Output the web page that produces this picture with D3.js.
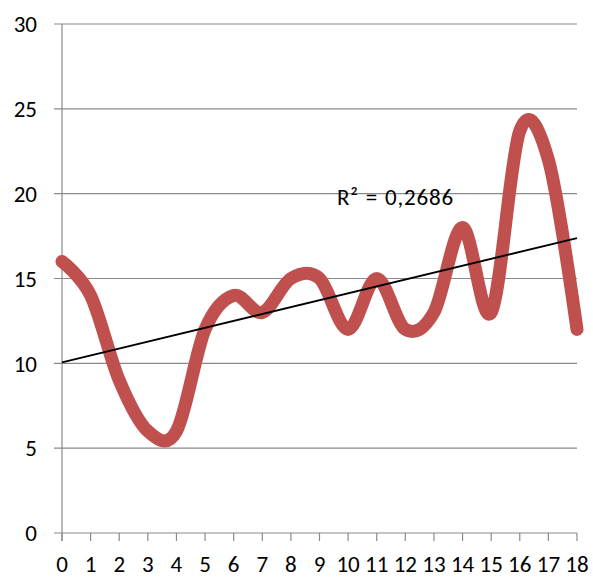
<!DOCTYPE html>
<html>
<head>
<meta charset="utf-8">
<script src="https://cdn.jsdelivr.net/npm/d3@7"></script>
<style>
  html, body { margin: 0; padding: 0; background: #fff; }
  text { font-family: Carlito, Calibri, Lato, sans-serif; fill: #000; }
</style>
</head>
<body>
<div id="chart"></div>
<script>
// values
const xValues = [0, 1, 2, 3, 4, 5, 6, 7, 8, 9, 10, 11, 12, 13, 14, 15, 16, 17, 18]
const yValues = [16, 14, 9, 6, 6, 12, 14, 13, 15, 15, 12, 15, 12, 13, 18, 13, 23.7, 22, 12]
const yTicks = [0, 5, 10, 15, 20, 25, 30]
const r2Label = 'R² = 0,2686'

const width = 593
const height = 578
const margin = { top: 24, right: 16, bottom: 45, left: 62 }

const svg = d3.create('svg')
    .attr('width', width)
    .attr('height', height)
    .attr('viewBox', [0, 0, width, height])

const x = d3.scaleLinear()
    .domain([0, 18])
    .range([margin.left, width - margin.right])

const y = d3.scaleLinear()
    .domain([0, 30])
    .range([height - margin.bottom, margin.top])

/* gridlines */
svg.append('g')
    .selectAll('line')
    .data(yTicks)
    .join('line')
    .attr('x1', margin.left - 8)
    .attr('x2', x(18))
    .attr('y1', d => y(d))
    .attr('y2', d => y(d))
    .attr('stroke', '#8a8a8a')
    .attr('stroke-width', 1.2)

/* y axis */
svg.append('line')
    .attr('x1', x(0)).attr('x2', x(0))
    .attr('y1', y(30)).attr('y2', y(0) + 8)
    .attr('stroke', '#8a8a8a')
    .attr('stroke-width', 1.2)

svg.append('g')
    .selectAll('text')
    .data(yTicks)
    .join('text')
    .attr('x', 37)
    .attr('y', d => y(d))
    .attr('dy', '0.36em')
    .attr('text-anchor', 'end')
    .attr('font-size', 23)
    .text(d => d)

/* x axis ticks + labels */
svg.append('g')
    .selectAll('line')
    .data(xValues)
    .join('line')
    .attr('x1', d => x(d)).attr('x2', d => x(d))
    .attr('y1', y(0)).attr('y2', y(0) + 8)
    .attr('stroke', '#8a8a8a')
    .attr('stroke-width', 1.2)

svg.append('g')
    .selectAll('text')
    .data(xValues)
    .join('text')
    .attr('x', d => x(d))
    .attr('y', 572)
    .attr('text-anchor', 'middle')
    .attr('font-size', 23)
    .text(d => d)

/* smoothed series */
const points = xValues.map((d, i) => [d, yValues[i]])
const line = d3.line()
    .x(d => x(d[0]))
    .y(d => y(d[1]))
    .curve(d3.curveCardinal.tension(0))

svg.append('path')
    .datum(points)
    .attr('fill', 'none')
    .attr('stroke', '#c0504d')
    .attr('stroke-width', 13)
    .attr('stroke-linecap', 'round')
    .attr('stroke-linejoin', 'round')
    .attr('d', line)

/* linear trendline, least squares */
const mx = d3.mean(xValues)
const my = d3.mean(yValues)
const slope = d3.sum(xValues, (d, i) => (d - mx) * (yValues[i] - my)) /
    d3.sum(xValues, d => (d - mx) ** 2)
const intercept = my - slope * mx

svg.append('line')
    .attr('x1', x(0)).attr('y1', y(intercept))
    .attr('x2', x(18)).attr('y2', y(intercept + slope * 18))
    .attr('stroke', '#000')
    .attr('stroke-width', 1.8)

svg.append('text')
    .attr('x', 337)
    .attr('y', 205)
    .attr('font-size', 23)
    .attr('letter-spacing', 0.8)
    .attr('word-spacing', 1)
    .text(r2Label)

document.getElementById('chart').appendChild(svg.node())
</script>
</body>
</html>
